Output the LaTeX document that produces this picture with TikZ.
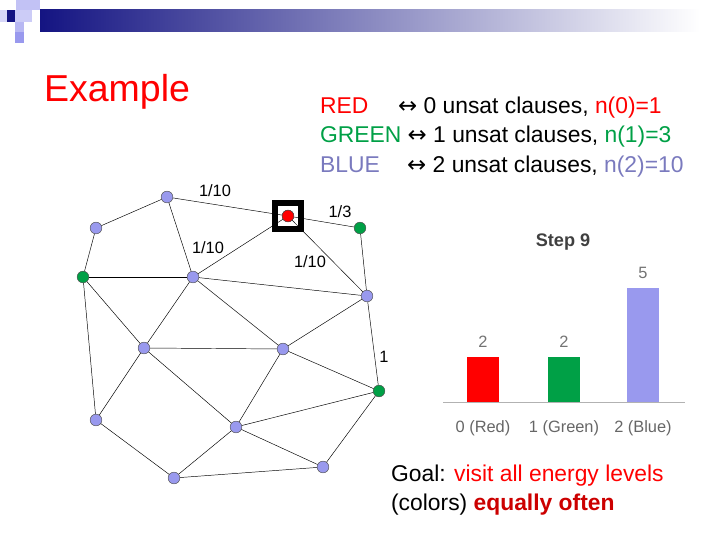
\documentclass[tikz,border=0pt]{standalone}
\usepackage{fontspec}
\setmainfont{Liberation Sans}
\newfontfamily\symfont{DejaVu Sans}
\definecolor{vblue}{RGB}{153,153,238}
\definecolor{vgreen}{RGB}{0,160,70}
\definecolor{navy}{RGB}{20,20,130}
\begin{document}
\begin{tikzpicture}[x=0.03cm,y=-0.03cm]
    \tikzset{vtx/.style={circle,draw=black!70,line width=0.4pt,inner sep=0pt,minimum size=10pt},
             bl/.style={vtx,fill=vblue}, gr/.style={vtx,fill=vgreen}, rd/.style={vtx,fill=red},
             wt/.style={font=\fontsize{14}{16}\selectfont},
             bar/.style={draw=none}}
    \useasboundingbox (0,0) rectangle (720,540);
    % banner
    \shade[left color=navy, right color=white] (40,10) rectangle (700,32);
    \fill[vblue!60] (16,0) rectangle (40,10);
    \fill[vblue!40] (0,10) rectangle (7,22);
    \fill[navy] (7,10) rectangle (15,22);
    \fill[vblue!50] (15,10) rectangle (32,22);
    \fill[vblue!70] (15,22) rectangle (24,32);
    \fill[vblue] (15,32) rectangle (24,43);
    \node[anchor=west,font=\fontsize{32}{36}\selectfont,text=red] (title) at (40,92) {Example};
    % legend
    \node[anchor=west,font=\fontsize{19.5}{25}\selectfont,align=left] (legend) at (316,137)
      {\textcolor{red}{RED}\hspace{1.3em}{\symfont↔} 0 unsat clauses, \textcolor{red}{n(0)=1}\\
       \textcolor{vgreen}{GREEN} {\symfont↔} 1 unsat clauses, \textcolor{vgreen}{n(1)=3}\\
       \textcolor{vblue!80!black}{BLUE}\hspace{1.2em}{\symfont↔} 2 unsat clauses, \textcolor{vblue!80!black}{n(2)=10}};
    % graph
    \node[bl] (a) at (167,197) {};
    \node[bl] (b) at (96,228) {};
    \node[rd] (c) at (288,216) {};
    \node[gr] (d) at (360,228) {};
    \node[gr] (e) at (83,277) {};
    \node[bl] (f) at (193,277) {};
    \node[bl] (g) at (367,296) {};
    \node[bl] (h) at (144,348) {};
    \node[bl] (i) at (283,349) {};
    \node[gr] (j) at (379,391) {};
    \node[bl] (k) at (96,420) {};
    \node[bl] (l) at (236,427) {};
    \node[bl] (m) at (323,467) {};
    \node[bl] (n) at (174,478) {};
    \draw[line width=5pt] (275,203) rectangle (301,229);
    \foreach \u/\v in {a/b,a/c,a/f,b/e,c/d,c/f,c/g,d/g,e/f,e/h,e/k,f/g,f/h,f/i,g/i,g/j,
                       h/i,h/k,h/l,i/j,i/l,j/l,j/m,k/n,l/m,l/n,n/m}
      \draw (\u) -- (\v);
    \node[rd] (c2) at (c) {};
    \node[wt] (w1) at (215,191) {1/10};
    \node[wt] (w2) at (340,212) {1/3};
    \node[wt] (w3) at (208,248) {1/10};
    \node[wt] (w4) at (310,262) {1/10};
    \node[wt] (w5) at (384,357) {1};
    % bar chart
    \node[font=\bfseries\fontsize{15.5}{18}\selectfont,text=black!75] (step) at (563,242) {Step 9};
    \fill[red] (467,357) rectangle (499,402);
    \fill[vgreen] (548,357) rectangle (580,402);
    \fill[vblue] (627,288) rectangle (659,402);
    \draw[black!30] (443,402) -- (685,402);
    \foreach \x/\n/\t/\lab in {483/2/342/0 (Red),564/2/342/1 (Green),643/5/273/2 (Blue)}{
      \node[text=black!55,font=\fontsize{14}{16}\selectfont] at (\x,\t) {\n};
      \node[text=black!60,font=\fontsize{14}{16}\selectfont] at (\x,428) {\lab};
    }
    % goal
    \node[anchor=west,align=left,font=\fontsize{19.5}{25}\selectfont] (goal) at (387,490)
      {Goal: \textcolor{red}{visit all energy levels}\\(colors) \textcolor{red!80!black}{\bfseries equally often}};
\end{tikzpicture}
\end{document}
